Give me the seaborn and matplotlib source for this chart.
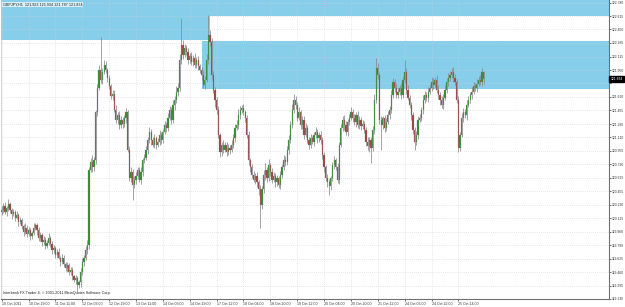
import matplotlib
matplotlib.use("Agg")
import matplotlib.pyplot as plt
import seaborn as sns
import numpy as np
import pandas as pd
from matplotlib.patches import Rectangle

# ---------------- data ----------------
first_open = 120.20
closes = [
    120.23, 120.28, 120.20, 120.25, 120.30, 120.23, 120.18, 120.20, 120.13, 120.17, 120.08, 120.10, 120.03, 119.96, 120.01, 119.93,
    119.98, 119.91, 119.94, 120.01, 120.04, 119.98, 119.88, 119.92, 119.83, 119.86, 119.78, 119.82, 119.88, 119.81, 119.73, 119.76,
    119.67, 119.71, 119.64, 119.59, 119.64, 119.56, 119.51, 119.55, 119.46, 119.49, 119.41, 119.37, 119.39, 119.30, 119.34, 119.46,
    119.59, 119.64, 119.73, 119.80, 120.72, 120.82, 120.75, 120.84, 121.43, 121.73, 121.95, 121.83, 121.93, 122.01, 121.95, 121.85,
    121.75, 121.63, 121.66, 121.46, 121.34, 121.40, 121.27, 121.34, 121.29, 121.36, 121.43, 120.97, 120.62, 120.70, 120.54, 120.60,
    120.65, 120.72, 120.60, 120.70, 120.84, 120.87, 120.97, 121.09, 121.19, 121.09, 121.03, 121.11, 121.03, 121.07, 121.15, 121.09,
    121.19, 121.27, 121.24, 121.36, 121.46, 121.34, 121.52, 121.58, 121.68, 121.73, 122.07, 122.26, 122.14, 122.22, 122.17, 122.07,
    122.12, 122.05, 122.10, 122.01, 122.07, 122.00, 121.95, 121.89, 121.77, 121.83, 122.07, 122.38, 122.30, 121.89, 121.71, 121.58,
    121.46, 121.15, 120.94, 121.03, 120.97, 121.03, 120.94, 120.99, 120.97, 121.03, 121.11, 121.24, 121.27, 121.40, 121.46, 121.48,
    121.43, 121.36, 121.15, 120.84, 120.75, 120.66, 120.60, 120.65, 120.57, 120.48, 120.29, 120.48, 120.66, 120.72, 120.62, 120.78,
    120.70, 120.60, 120.65, 120.57, 120.62, 120.54, 120.66, 120.75, 120.84, 120.82, 120.97, 121.09, 121.27, 121.46, 121.58, 121.52,
    121.36, 121.43, 121.27, 121.34, 121.15, 121.24, 121.09, 121.03, 121.11, 121.07, 121.15, 121.19, 121.11, 121.15, 121.09, 120.90,
    120.75, 120.62, 120.57, 120.52, 120.62, 120.78, 120.84, 120.75, 120.60, 121.03, 121.24, 121.34, 121.27, 121.19, 121.31, 121.36,
    121.43, 121.36, 121.31, 121.40, 121.27, 121.34, 121.26, 121.29, 121.21, 121.07, 121.02, 121.09, 120.99, 121.21, 121.58, 121.98,
    121.89, 121.34, 121.27, 121.36, 121.24, 121.31, 121.40, 121.46, 121.64, 121.80, 121.73, 121.64, 121.68, 121.73, 121.64, 121.83,
    121.93, 121.71, 121.61, 121.52, 121.40, 121.21, 121.07, 121.15, 121.34, 121.36, 121.46, 121.58, 121.64, 121.61, 121.68, 121.73,
    121.80, 121.77, 121.83, 121.71, 121.64, 121.58, 121.52, 121.61, 121.71, 121.80, 121.85, 121.89, 121.93, 121.85, 121.80, 121.58,
    120.99, 121.15, 121.36, 121.43, 121.40, 121.52, 121.58, 121.64, 121.68, 121.75, 121.73, 121.78, 121.83, 121.80, 121.923, 121.834,
]
# upper / lower shadow lengths in pips (0.01 JPY)
wick_up = [
    4, 3, 5, 2, 6, 3, 2, 4, 3, 5, 2, 4, 3, 2, 5, 3,
    4, 2, 3, 6, 3, 2, 4, 3, 2, 5, 3, 4, 6, 2, 3, 4,
    2, 3, 5, 2, 4, 3, 2, 3, 2, 4, 3, 2, 3, 2, 3, 5,
    4, 3, 5, 6, 4, 5, 8, 4, 3, 5, 6, 41, 4, 6, 5, 3,
    4, 3, 5, 4, 6, 3, 4, 5, 3, 4, 5, 3, 4, 6, 3, 4,
    5, 3, 4, 6, 3, 4, 5, 4, 6, 3, 4, 5, 3, 4, 6, 4,
    3, 5, 4, 6, 5, 4, 6, 5, 7, 6, 8, 33, 6, 5, 4, 5,
    4, 5, 3, 6, 4, 5, 3, 4, 6, 5, 8, 25, 6, 4, 5, 3,
    4, 5, 3, 4, 6, 4, 3, 5, 4, 6, 5, 4, 6, 7, 5, 4,
    5, 3, 4, 5, 3, 4, 5, 3, 4, 3, 5, 4, 6, 8, 4, 7,
    3, 4, 5, 3, 4, 3, 5, 4, 6, 5, 4, 6, 5, 7, 8, 5,
    4, 6, 3, 5, 4, 6, 3, 4, 5, 3, 4, 6, 3, 4, 5, 3,
    4, 3, 5, 4, 3, 4, 5, 3, 6, 4, 5, 4, 6, 5, 4, 5,
    6, 4, 5, 3, 4, 5, 3, 4, 3, 4, 5, 3, 4, 5, 8, 12,
    6, 4, 5, 3, 4, 5, 4, 5, 6, 5, 4, 6, 5, 4, 6, 5,
    14, 4, 5, 3, 4, 3, 4, 5, 4, 5, 4, 6, 5, 4, 6, 5,
    6, 5, 4, 6, 5, 4, 5, 4, 6, 5, 6, 5, 4, 6, 5, 4,
    5, 4, 6, 5, 4, 6, 5, 4, 6, 5, 4, 6, 5, 6, 5, 1,
]
wick_dn = [
    3, 4, 2, 5, 3, 4, 6, 3, 4, 2, 5, 3, 4, 6, 3, 4,
    3, 5, 4, 2, 3, 6, 3, 4, 5, 3, 4, 2, 3, 4, 5, 3,
    4, 3, 2, 5, 3, 4, 3, 5, 4, 3, 4, 3, 5, 8, 4, 6,
    4, 5, 3, 4, 5, 3, 6, 4, 5, 4, 3, 4, 5, 3, 4, 5,
    3, 4, 5, 3, 4, 5, 4, 3, 5, 4, 6, 3, 4, 5, 19, 4,
    5, 4, 3, 5, 6, 4, 3, 5, 4, 6, 3, 4, 5, 3, 4, 5,
    4, 3, 5, 4, 3, 5, 4, 6, 3, 5, 4, 4, 5, 3, 4, 5,
    3, 4, 5, 4, 3, 5, 4, 6, 4, 5, 3, 4, 5, 6, 4, 8,
    5, 4, 6, 5, 4, 3, 5, 4, 6, 3, 4, 5, 3, 4, 5, 4,
    3, 5, 4, 6, 5, 4, 3, 5, 6, 7, 28, 5, 4, 6, 5, 4,
    5, 4, 3, 6, 5, 4, 5, 4, 3, 5, 4, 5, 4, 3, 4, 5,
    4, 3, 5, 4, 5, 3, 4, 5, 4, 3, 5, 4, 6, 4, 5, 4,
    5, 4, 6, 11, 5, 4, 5, 3, 4, 5, 3, 4, 6, 4, 5, 4,
    3, 5, 4, 6, 3, 4, 5, 4, 3, 5, 6, 8, 19, 4, 5, 4,
    5, 6, 30, 4, 5, 4, 3, 5, 4, 3, 5, 4, 3, 4, 5, 3,
    4, 5, 3, 4, 6, 5, 10, 4, 5, 3, 4, 5, 3, 4, 5, 3,
    4, 5, 3, 4, 5, 6, 4, 5, 3, 4, 5, 3, 4, 5, 3, 4,
    5, 4, 3, 5, 4, 6, 3, 4, 5, 3, 4, 5, 3, 4, 5, 5,
]
time_labels = ["10 Oct 2011", "10 Oct 19:00", "11 Oct 11:00", "12 Oct 03:00", "12 Oct 19:00",
               "13 Oct 11:00", "14 Oct 03:00", "14 Oct 19:00", "17 Oct 12:00", "18 Oct 04:00",
               "18 Oct 20:00", "19 Oct 12:00", "20 Oct 04:00", "20 Oct 20:00", "21 Oct 12:00",
               "24 Oct 06:00", "24 Oct 22:00", "25 Oct 14:00"]
label_every = 16
price_ticks = [122.780, 122.615, 122.450, 122.285, 122.115, 121.950, 121.785, 121.620, 121.455,
               121.285, 121.120, 120.955, 120.790, 120.625, 120.455, 120.290, 120.125, 119.960,
               119.790, 119.625, 119.460, 119.295, 119.130]
# zones: (start bar, end bar, top price, bottom price)
zone_bars_start = [-5, -5, 119]
zone_bars_end = [124, 400, 400]
zone_top = [122.90, 122.90, 122.308]
zone_bottom = [122.321, 122.616, 121.717]
symbol_info = "GBPJPY,H1  121.923 121.934 121.787 121.834"
bid_price = 121.834
footer = "Interbank FX Trader 4, \u00a9 2001-2011 MetaQuotes Software Corp."

# ---------------- build frame ----------------
opens = [first_open] + closes[:-1]
df = pd.DataFrame({"open": opens, "close": closes,
                   "up": np.array(wick_up) / 100.0, "dn": np.array(wick_dn) / 100.0})
df["bar"] = np.arange(len(df))
df["high"] = df[["open", "close"]].max(axis=1) + df["up"]
df["low"] = df[["open", "close"]].min(axis=1) - df["dn"]
df["dir"] = np.where(df["close"] >= df["open"], "up", "down")

sns.set_theme(style="white")
plt.rcParams["font.family"] = ["Liberation Sans", "DejaVu Sans"]

fig = plt.figure(figsize=(6.25, 3.07), dpi=100)
ax = fig.add_axes([1 / 625, 8 / 307, 608 / 625, 299 / 307])
ax.set_facecolor("white")

# zones
for xs, xe, t, b in zip(zone_bars_start, zone_bars_end, zone_top, zone_bottom):
    ax.add_patch(Rectangle((xs, b), xe - xs, t - b, facecolor="#87ceeb", edgecolor="none", zorder=0.5))

# grid
grid_kw = dict(color="#d0d0d0", lw=0.5, ls=(0, (1, 2)), zorder=1)
for p in price_ticks:
    ax.axhline(p, **grid_kw)
xt = np.arange(len(time_labels)) * label_every
for x in xt:
    ax.axvline(x, **grid_kw)

# candles
ax.vlines(df["bar"], df["low"], df["high"], color="#8a8a8a", lw=0.55, zorder=2)
pal = {"up": "#2a8f2a", "down": "#a0403a"}
heights = (df["close"] - df["open"]).values
heights = np.where(np.abs(heights) < 0.004, 0.004, heights)
ax.bar(df["bar"], heights, bottom=df["open"], width=0.72,
       color=[pal[d] for d in df["dir"]], edgecolor="#8a8a8a", linewidth=0.2, zorder=3)

ax.set_xlim(-0.42, 361.7)
ax.set_ylim(119.13, 122.813)

# axes styling
ax.yaxis.tick_right()
ax.set_yticks(price_ticks)
ax.set_yticklabels(["" if abs(p - 121.785) < 1e-6 else f"{p:.3f}" for p in price_ticks])
ax.set_xticks(xt)
ax.set_xticklabels(time_labels, ha="left")
ax.tick_params(axis="y", which="both", right=True, length=1.5, width=0.5, pad=0.5,
               labelsize=2.4, colors="#333333", direction="out")
ax.tick_params(axis="x", which="both", bottom=True, length=1.5, width=0.5, pad=1,
               labelsize=2.6, colors="#333333", direction="out")
for s in ["right", "bottom"]:
    ax.spines[s].set_color("#707070")
    ax.spines[s].set_linewidth(0.8)
ax.spines["left"].set_color("#c8c8c8")
ax.spines["left"].set_linewidth(0.5)
ax.spines["top"].set_visible(False)

# texts
ax.text(0.003, 0.992, symbol_info, transform=ax.transAxes, fontsize=2.7, color="#222222",
        va="top", ha="left", zorder=6,
        bbox=dict(boxstyle="square,pad=0.2", facecolor="#d8eef8", edgecolor="none"))
ax.text(0.003, 0.012, footer, transform=ax.transAxes, fontsize=2.7, color="#222222",
        va="bottom", ha="left", zorder=6)
ax.annotate(f"{bid_price:.3f}", xy=(1.0, bid_price), xycoords=("axes fraction", "data"),
            xytext=(1.0, 0), textcoords="offset points", fontsize=2.4, color="white",
            va="center", ha="left", annotation_clip=False, zorder=10,
            bbox=dict(boxstyle="square,pad=0.3", facecolor="black", edgecolor="black"))

fig.savefig("out.png", dpi=100)
